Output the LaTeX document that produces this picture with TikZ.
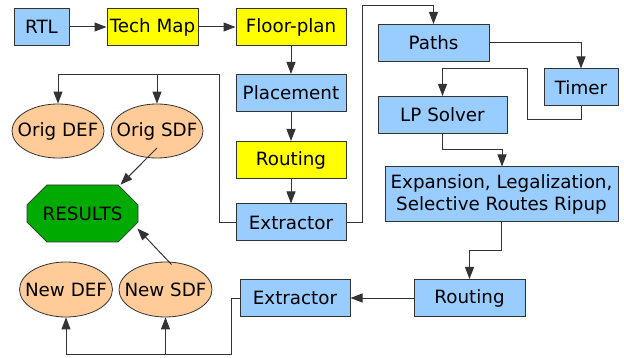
\documentclass[tikz,border=0pt]{standalone}
\usepackage{fontspec}
\setmainfont{DejaVu Sans}
\usetikzlibrary{arrows.meta,shapes.geometric,shapes.misc,calc}
\definecolor{bbox}{HTML}{99CCFF}
\definecolor{ybox}{HTML}{FFFF00}
\definecolor{peach}{HTML}{FFCC99}
\definecolor{grn}{HTML}{00AA00}
\definecolor{edge}{HTML}{333333}
\begin{document}
\begin{tikzpicture}[x=1pt,y=-1pt,
  every node/.style={font=\fontsize{18.3}{22}\selectfont, inner sep=0pt},
  box/.style={draw=edge, line width=1pt, rectangle, minimum height=37pt},
  blue/.style={box, fill=bbox},
  yel/.style={box, fill=ybox},
  oval/.style={draw=edge, line width=0.8pt, ellipse, fill=peach, minimum width=92pt, minimum height=54pt},
  wire/.style={draw=edge, line width=1pt},
  arr/.style={wire, -{Triangle[length=12pt,width=9pt]}}]
\useasboundingbox (0,0) rectangle (624,358);
% nodes
\node[blue, minimum width=55pt] (rtl) at (41.5,27) {RTL};
\node[yel, minimum width=91pt] (tech) at (152.5,27) {Tech Map};
\node[yel, minimum width=110pt] (floor) at (291,27) {Floor-plan};
\node[blue, minimum width=110pt] (place) at (291,93) {Placement};
\node[yel, minimum width=110pt] (route1) at (291,160) {Routing};
\node[blue, minimum width=110pt] (ext1) at (291,222.5) {Extractor};
\node[blue, minimum width=111pt] (paths) at (433.5,43) {Paths};
\node[blue, minimum width=74pt] (timer) at (581,87.5) {Timer};
\node[blue, minimum width=129pt] (lp) at (442.5,115) {LP Solver};
\node[blue, minimum width=233pt, minimum height=55pt, align=center] (exp) at (501.5,194.5) {Expansion, Legalization,\\Selective Routes Ripup};
\node[blue, minimum width=111pt] (route2) at (469.5,298) {Routing};
\node[blue, minimum width=110pt] (ext2) at (295,298) {Extractor};
\node[oval] (odef) at (58,131) {\makebox[0pt]{Orig DEF}};
\node[oval] (osdf) at (157,131) {\makebox[0pt]{Orig SDF}};
\node[oval, minimum width=93pt, minimum height=55pt] (ndef) at (66,289.5) {\makebox[0pt]{New DEF}};
\node[oval, minimum width=93pt, minimum height=55pt] (nsdf) at (165.5,289.5) {\makebox[0pt]{New SDF}};
\node[draw=edge, line width=0.8pt, fill=grn, chamfered rectangle, chamfered rectangle xsep=13pt, chamfered rectangle ysep=13pt, minimum width=111pt, minimum height=57pt] (res) at (82.5,213.5) {RESULTS};
% junctions
\coordinate (j1) at (219,75);
\coordinate (j2) at (362,6);
\coordinate (j3) at (527,120);
\coordinate (j4) at (527,69);
\coordinate (j5) at (502,150);
\coordinate (j6) at (501.5,251);
\coordinate (j7) at (231,354);
% connectors
\draw[arr] (rtl) -- (tech);
\draw[arr] (tech) -- (floor);
\draw[arr] (floor) -- (place);
\draw[arr] (place) -- (route1);
\draw[arr] (route1) -- (ext1);
\draw[arr] (ext1.west) -| (j1) -| (odef.north);
\draw[arr] (osdf.north |- j1) -- (osdf.north);
\draw[arr] (ext1.east) -| (j2) -| (paths.north);
\draw[arr] (paths.east) -| (timer.north);
\draw[arr] (timer.south) |- (j3) -- (j4) -| (lp.north);
\draw[arr] (lp.south) |- (j5) -- (exp.north -| j5);
\draw[arr] (exp.south -| j6) -- (j6) -| (route2.north);
\draw[arr] (route2.west) -- (ext2.east);
\draw[arr] (ext2.west) -| (j7) -| (ndef.south);
\draw[arr] (nsdf.south |- j7) -- (nsdf.south);
\draw[arr] ($(osdf.center)+(0,17)$) -- ($(res.north)+(38,0)$);
\draw[arr] ($(nsdf.center)+(6,-25)$) -- ($(res.east)+(-1,15)$);
\end{tikzpicture}
\end{document}
